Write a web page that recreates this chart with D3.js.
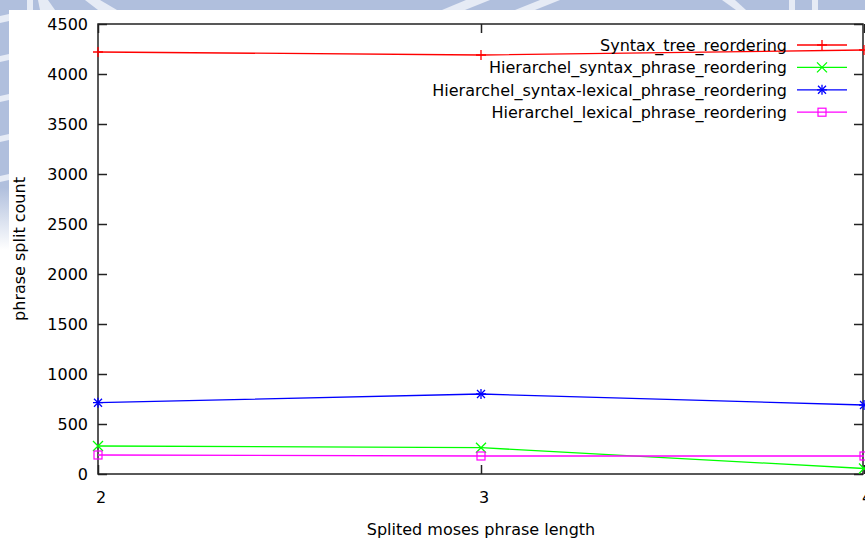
<!DOCTYPE html>
<html>
<head>
<meta charset="utf-8">
<script src="https://cdn.jsdelivr.net/npm/d3@7"></script>
<style>
  body { margin: 0; background: #fff; }
  svg { display: block; }
  text { font-family: "DejaVu Sans", Verdana, sans-serif; fill: #000; }
</style>
</head>
<body>
<svg id="canvas"></svg>
<script>
let width = 865,
height = 538

// data
let lengths = [2, 3, 4]
let seriesNames = [
    'Syntax_tree_reordering',
    'Hierarchel_syntax_phrase_reordering',
    'Hierarchel_syntax-lexical_phrase_reordering',
    'Hierarchel_lexical_phrase_reordering'
]
let syntaxTree = [4220, 4190, 4240]
let syntaxPhrase = [280, 263, 55]
let syntaxLexical = [713, 800, 690]
let lexicalPhrase = [190, 180, 180]
let yTicks = [0, 500, 1000, 1500, 2000, 2500, 3000, 3500, 4000, 4500]
let xTicks = [2, 3, 4]

let colors = ['#ff0000', '#00ff00', '#0000ff', '#ff00ff']
let markers = ['plus', 'cross', 'star', 'box']
let allSeries = [syntaxTree, syntaxPhrase, syntaxLexical, lexicalPhrase]

let fontSize = '16px'

let canvas = d3.select('#canvas')
.attr('width', width)
.attr('height', height)

// faint watermark bits at the edges of the scan
let defs = canvas.append('defs')
let fade = defs.append('linearGradient').attr('id', 'fade')
.attr('x1', 0).attr('x2', 0).attr('y1', 0).attr('y2', 1)
fade.append('stop').attr('offset', '0.75').attr('stop-color', '#b0bfdd')
fade.append('stop').attr('offset', '1').attr('stop-color', '#ffffff')

let wm = canvas.append('g')
wm.append('rect').attr('x', 0).attr('y', 0).attr('width', width).attr('height', 10).attr('fill', '#b0bfdd')
wm.append('rect').attr('x', 0).attr('y', 0).attr('width', 9).attr('height', 250).attr('fill', 'url(#fade)')
let gaps = canvas.append('g').attr('fill', '#e6ebf5')
gaps.append('polygon').attr('points', '27,0 33,0 33,10 27,10')
gaps.append('polygon').attr('points', '38,0 48,0 55,10 40,10')
gaps.append('polygon').attr('points', '85,0 100,0 117,10 98,10')
gaps.append('polygon').attr('points', '466,0 490,0 465,10 442,10')
gaps.append('polygon').attr('points', '540,0 560,0 535,10 515,10')
gaps.append('polygon').attr('points', '722,0 735,0 746,10 736,10')
gaps.append('polygon').attr('points', '789,0 795,0 795,10 789,10')
gaps.append('polygon').attr('points', '812,0 818,0 818,10 812,10')
gaps.append('polygon').attr('points', '0,16 9,14 9,21 0,23')
gaps.append('polygon').attr('points', '0,56 9,54 9,60 0,62')
gaps.append('polygon').attr('points', '0,96 9,94 9,100 0,102')
gaps.append('polygon').attr('points', '0,136 9,134 9,140 0,142')
gaps.append('polygon').attr('points', '0,176 9,174 9,180 0,182')

let margin = {top: 24, right: 1, bottom: 64, left: 98}

let x = d3.scaleLinear()
.domain([2, 4])
.range([margin.left, width - margin.right])

let y = d3.scaleLinear()
.domain([0, 4500])
.range([height - margin.bottom, margin.top])

let tickLen = 9

// inward ticks on all four sides, like gnuplot's mirror ticks
canvas.append('g')
.attr('transform', `translate(${margin.left},0)`)
.call(d3.axisRight(y).tickValues(yTicks).tickSize(tickLen).tickFormat(''))
.select('.domain').remove()
canvas.append('g')
.attr('transform', `translate(${x.range()[1] - 1},0)`)
.call(d3.axisLeft(y).tickValues(yTicks).tickSize(tickLen).tickFormat(''))
.select('.domain').remove()

canvas.append('g')
.attr('transform', `translate(0,${y(0)})`)
.call(d3.axisTop(x).tickValues(xTicks).tickSize(tickLen).tickFormat(''))
.select('.domain').remove()
canvas.append('g')
.attr('transform', `translate(0,${y(4500)})`)
.call(d3.axisBottom(x).tickValues(xTicks).tickSize(tickLen).tickFormat(''))
.select('.domain').remove()

canvas.selectAll('.tick line').attr('stroke', '#222').attr('stroke-width', 1.5)

// tick labels
canvas.selectAll('.ylab')
.data(yTicks)
.join('text')
.attr('class', 'ylab')
.attr('x', margin.left - 10)
.attr('y', (d) => y(d))
.attr('dy', '0.36em')
.attr('text-anchor', 'end')
.style('font-size', fontSize)
.text((d) => d)

canvas.selectAll('.xlab')
.data(xTicks)
.join('text')
.attr('class', 'xlab')
.attr('x', (d) => x(d) + 3)
.attr('y', y(0) + 29)
.attr('text-anchor', 'middle')
.style('font-size', fontSize)
.text((d) => d)

// border
canvas.append('rect')
.attr('x', x(2))
.attr('y', y(4500))
.attr('width', x(4) - x(2) - 1)
.attr('height', y(0) - y(4500))
.attr('fill', 'none')
.attr('stroke', '#222')
.attr('stroke-width', 1.5)

// axis titles
canvas.append('text')
.attr('transform', `translate(25,${(y(0) + y(4500)) / 2}) rotate(-90)`)
.attr('text-anchor', 'middle')
.style('font-size', fontSize)
.text('phrase split count')

canvas.append('text')
.attr('x', x(3))
.attr('y', 535)
.attr('text-anchor', 'middle')
.style('font-size', fontSize)
.text('Splited moses phrase length')

let drawMarker = (g, type, cx, cy, color) => {
    let s = 5
    if (type === 'plus' || type === 'star') {
        g.append('path').attr('d', `M${cx - s},${cy}H${cx + s}M${cx},${cy - s}V${cy + s}`)
        .attr('stroke', color).attr('stroke-width', 1.3)
    }
    if (type === 'cross' || type === 'star') {
        let c = type === 'star' ? 4 : 5
        g.append('path').attr('d', `M${cx - c},${cy - c}L${cx + c},${cy + c}M${cx - c},${cy + c}L${cx + c},${cy - c}`)
        .attr('stroke', color).attr('stroke-width', 1.3)
    }
    if (type === 'box') {
        g.append('rect').attr('x', cx - 4).attr('y', cy - 4).attr('width', 8).attr('height', 8)
        .attr('fill', 'none').attr('stroke', color).attr('stroke-width', 1.2)
    }
}

let line = d3.line()
.x((d, i) => x(lengths[i]))
.y((d) => y(d))

let plot = canvas.append('g')
allSeries.forEach((values, k) => {
    plot.append('path')
    .datum(values)
    .attr('d', line)
    .attr('fill', 'none')
    .attr('stroke', colors[k])
    .attr('stroke-width', 1.3)
    values.forEach((v, i) => drawMarker(plot, markers[k], x(lengths[i]), y(v), colors[k]))
})

// legend
let legend = canvas.append('g')
seriesNames.forEach((name, k) => {
    let ly = 45 + k * 22.4
    legend.append('text')
    .attr('x', 787)
    .attr('y', ly)
    .attr('dy', '0.36em')
    .attr('text-anchor', 'end')
    .style('font-size', fontSize)
    .text(name)
    legend.append('line')
    .attr('x1', 797).attr('x2', 847)
    .attr('y1', ly).attr('y2', ly)
    .attr('stroke', colors[k])
    .attr('stroke-width', 1.3)
    drawMarker(legend, markers[k], 822, ly, colors[k])
})
</script>
</body>
</html>
